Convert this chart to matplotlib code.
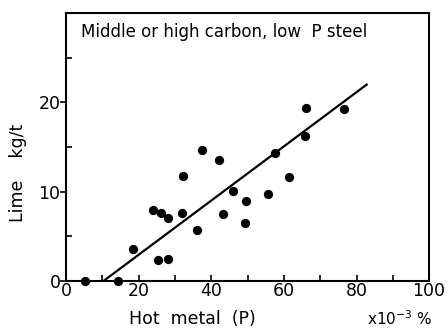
import numpy as np
import matplotlib
matplotlib.use('Agg')
import matplotlib.pyplot as plt
from matplotlib.ticker import MultipleLocator

# Hot metal P (x10^-3 %) vs lime consumption (kg/t)
hot_metal_p = [5.2, 14.4, 18.4, 23.9, 25.3, 26.0, 28.0, 28.0, 32.0, 32.2, 36.0,
               37.3, 42.1, 43.3, 46.1, 49.5, 49.4, 55.5, 57.6, 61.3, 65.8, 66.1, 76.6]
lime = [0.0, 0.0, 3.6, 8.0, 2.3, 7.6, 2.5, 7.0, 7.6, 11.8, 5.7,
        14.7, 13.5, 7.5, 10.1, 9.0, 6.5, 9.7, 14.3, 11.7, 16.2, 19.4, 19.3]

# regression line end points
fit_x = [10.3, 82.8]
fit_y = [0.0, 22.0]

plt.rcParams['font.family'] = 'DejaVu Sans'

fig = plt.figure(figsize=(4.47, 3.29), dpi=100)
ax = fig.add_axes([0.148, 0.146, 0.812, 0.814])

ax.scatter(hot_metal_p, lime, s=32, color='black', zorder=3, clip_on=False)
ax.plot(fit_x, fit_y, color='black', lw=1.6)

ax.set_xlim(0, 100)
ax.set_ylim(0, 30)
ax.set_xticks([0, 20, 40, 60, 80, 100])
ax.xaxis.set_minor_locator(MultipleLocator(10))
ax.set_yticks([0, 10, 20])
ax.yaxis.set_minor_locator(MultipleLocator(5))

ax.tick_params(axis='x', which='both', direction='in', length=4, width=1.2,
               labelsize=12.5, pad=1)
ax.tick_params(axis='y', which='major', direction='out', length=4, width=1.2,
               labelsize=12.5, pad=0)
ax.tick_params(axis='y', which='minor', direction='in', length=4, width=1.2)

for s in ax.spines.values():
    s.set_linewidth(1.5)

ax.text(0.04, 0.93, 'Middle or high carbon, low  P steel', transform=ax.transAxes,
        fontsize=12, ha='left', va='center')

fig.text(192 / 447, 1 - 319 / 329, 'Hot  metal  (P)', fontsize=12.5, ha='center', va='center')
fig.text(400 / 447, 1 - 319 / 329, r'x10$^{-3}$ %', fontsize=11, ha='center', va='center')
fig.text(18 / 447, 1 - 173 / 329, 'Lime    kg/t', fontsize=12.5, ha='center', va='center',
         rotation=90)

fig.savefig('out.png', dpi=100)
